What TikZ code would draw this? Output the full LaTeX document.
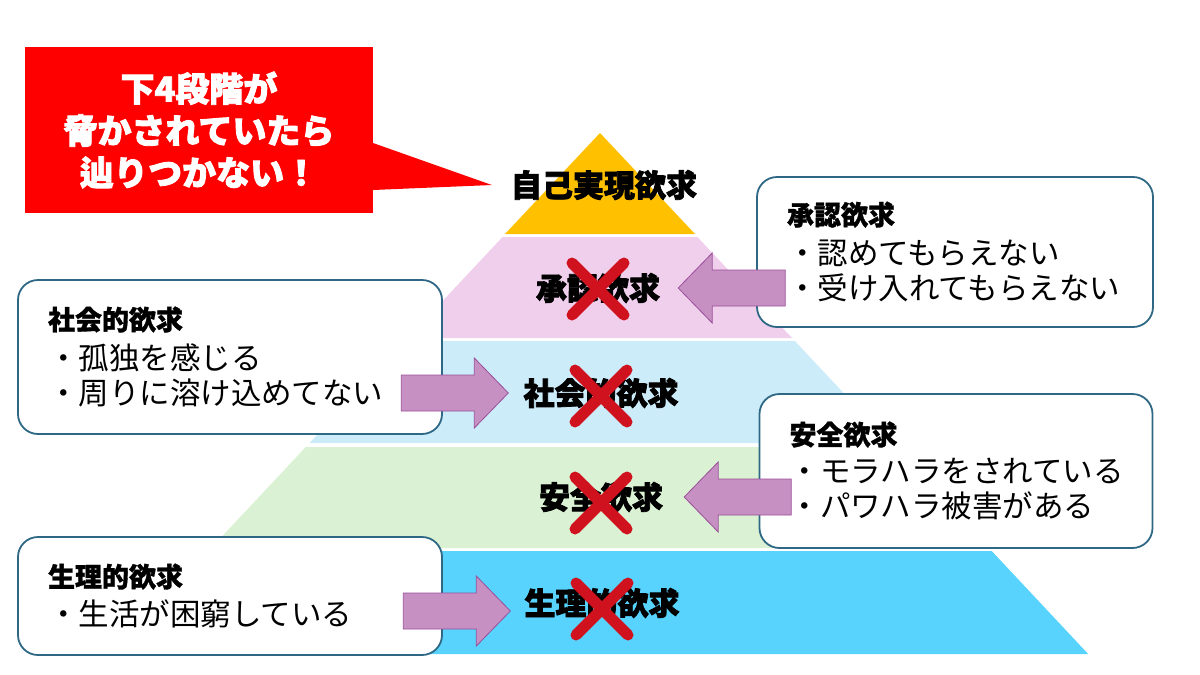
\documentclass[tikz,border=0pt]{standalone}
\usepackage{fontspec}
\setmainfont{Noto Sans CJK JP}
\newfontfamily\heavyfont{Noto Sans CJK JP}[BoldFeatures={FakeBold=2.5}]
\newfontfamily\semifont{Noto Sans CJK JP}[BoldFeatures={FakeBold=1.2}]
\usepackage{xcolor}
\usetikzlibrary{calc}

\definecolor{topyellow}{HTML}{FFC000}
\definecolor{bandpink}{HTML}{EFCFEC}
\definecolor{bandsky}{HTML}{CCECFA}
\definecolor{bandgreen}{HTML}{DAF1D3}
\definecolor{bandcyan}{HTML}{57D3FD}
\definecolor{crossred}{HTML}{D0121F}
\definecolor{boxline}{HTML}{2F6884}
\definecolor{arrowfill}{HTML}{C690C3}
\definecolor{arrowline}{HTML}{9A4F98}

% block arrow, tip at #1, #2 = 1 points left, -1 points right
\newcommand{\blockarr}[2]{%
  \draw[blockarrow, xscale=#2] (#1) -- ++(34,-35) -- ++(0,17) -- ++(73,0)
    -- ++(0,36) -- ++(-73,0) -- ++(0,17) -- cycle;}

\begin{document}
\begin{tikzpicture}[
    x=1pt, y=-1pt,
    every node/.style={inner sep=0pt},
    band/.style={font=\fontsize{31}{31}\selectfont\heavyfont\bfseries},
    infobox/.style={draw=boxline, line width=1.8pt, rounded corners=20pt,
      fill=white, align=left, inner xsep=30pt,
      font=\fontsize{30.5}{35}\selectfont},
    redx/.style={draw=crossred, line width=11pt, line cap=round},
    blockarrow/.style={fill=arrowfill, draw=arrowline, line width=0.8pt,
      line join=miter}
  ]
  \useasboundingbox (0,0) rectangle (1200,675);

  % pyramid
  \fill[topyellow] (600,133) -- (505,234) -- (695,234) -- cycle;
  \foreach \ytop/\ybot/\col in {237/338/bandpink, 341/443/bandsky,
      447/548/bandgreen, 551/654/bandcyan}
    \fill[\col] ({600-0.937*(\ytop-133)},\ytop) -- ({600+0.937*(\ytop-133)},\ytop)
      -- ({600+0.937*(\ybot-133)},\ybot) -- ({600-0.937*(\ybot-133)},\ybot) -- cycle;

  % levels
  \node[band] (lbl1) at (604,185) {自己実現欲求};
  \node[band] (lbl2) at (598,288) {承認欲求};
  \node[band] (lbl3) at (601,393) {社会的欲求};
  \node[band] (lbl4) at (601,497) {安全欲求};
  \node[band] (lbl5) at (602,603) {生理的欲求};

  % crosses
  \foreach \n/\dy in {2/1, 3/3, 4/6, 5/6}
    \draw[redx] ([shift={(-26,\dy-26)}]lbl\n.center) -- ([shift={(26,\dy+26)}]lbl\n.center)
      ([shift={(-26,\dy+26)}]lbl\n.center) -- ([shift={(26,\dy-26)}]lbl\n.center);

  % boxes
  \node[infobox, text width=336pt, minimum height=150pt] (esteem) at (955,252)
    {{\semifont\bfseries\fontsize{27}{27}\selectfont 承認欲求}\\[5pt]
     ・認めてもらえない\\ ・受け入れてもらえない};
  \node[infobox, text width=364pt, minimum height=154pt] (social) at (230,357)
    {{\semifont\bfseries\fontsize{27}{27}\selectfont 社会的欲求}\\[5pt]
     ・孤独を感じる\\ ・周りに溶け込めてない};
  \node[infobox, text width=333pt, minimum height=154pt] (safety) at (956,471)
    {{\semifont\bfseries\fontsize{27}{27}\selectfont 安全欲求}\\[3pt]
     ・モラハラをされている\\ ・パワハラ被害がある};
  \node[infobox, text width=364pt, minimum height=118pt] (body) at (230,596)
    {{\semifont\bfseries\fontsize{27}{27}\selectfont 生理的欲求}\\[4pt]
     ・生活が困窮している};

  % arrows
  \coordinate (tip2) at ([xshift=18]lbl2.east);
  \coordinate (tip3) at ([xshift=-15]lbl3.west);
  \coordinate (tip4) at ([xshift=21]lbl4.east);
  \coordinate (tip5) at ([xshift=-14,yshift=-8]lbl5.west);
  \blockarr{tip2}{1}
  \blockarr{tip3}{-1}
  \blockarr{tip4}{1}
  \blockarr{tip5}{-1}

  % callout
  \coordinate (point) at ([xshift=-19]lbl1.west);
  \fill[red] (25,47) rectangle (373,213);
  \fill[red] (373,143) -- (point) -- (373,190) -- cycle;
  \node[align=center, text=white,
    font=\fontsize{34}{42}\selectfont\heavyfont\bfseries]
    (warn) at (199,130) {下4段階が\\脅かされていたら\\辿りつかない！};
\end{tikzpicture}
\end{document}
